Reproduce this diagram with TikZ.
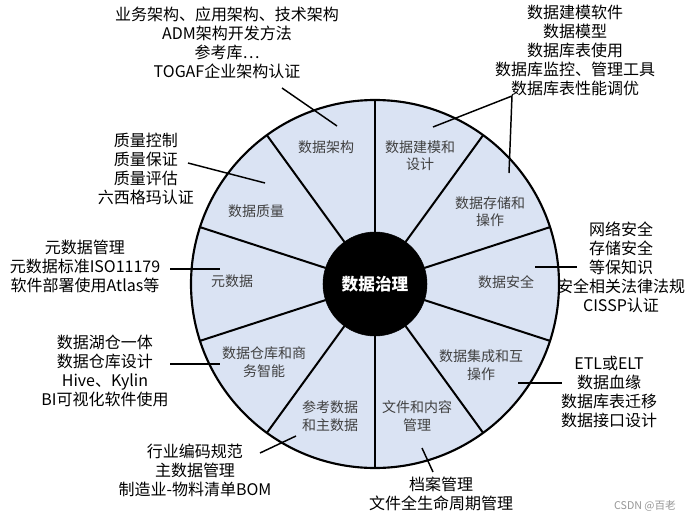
\documentclass[tikz,border=0pt]{standalone}
\usepackage{fontspec}
\setmainfont{Noto Sans CJK SC}
\definecolor{segfill}{RGB}{218,227,243}
\definecolor{labgray}{RGB}{64,64,64}
\definecolor{wmgray}{RGB}{150,150,150}
\tikzset{
  seglabel/.style={font=\fontsize{10.5}{13}\selectfont, text=labgray, align=center, inner sep=0pt},
  outtext/.style={font=\fontsize{12}{14.25}\selectfont, text=black, align=center, inner sep=0pt},
  divider/.style={line width=1.5pt, black},
  leader/.style={line width=1.1pt, black},
}
\begin{document}
\begin{tikzpicture}[x=0.75pt,y=-0.75pt]
\useasboundingbox (0,0) rectangle (694,521);
\coordinate (C) at (375,284);
% wheel
\fill[segfill] (C) circle [radius=184];
\foreach \a in {90,54,18,-18,-54,-90,-126,-162,162,126}{
  \draw[divider] ([shift={(C)}]\a:52) -- ([shift={(C)}]\a:184);
}
\draw[line width=1.6pt, black] (C) circle [radius=184];
\node[circle, fill=black, draw=black, minimum size=78pt, inner sep=0pt,
      font=\fontsize{12.5}{14}\selectfont\bfseries, text=white] (hub) at (C) {数据治理};
% segment labels
\node[seglabel] (arch) at (326,147) {数据架构};
\node[seglabel] (model) at (420,155.5) {数据建模和\\设计};
\node[seglabel] (store) at (490,212) {数据存储和\\操作};
\node[seglabel] (sec) at (506,282) {数据安全};
\node[seglabel] (integ) at (481,365) {数据集成和互\\操作};
\node[seglabel] (doc) at (417,416) {文件和内容\\管理};
\node[seglabel] (ref) at (330,416) {参考数据\\和主数据};
\node[seglabel] (dw) at (264,362) {数据仓库和商\\务智能};
\node[seglabel] (meta) at (232,281) {元数据};
\node[seglabel] (qual) at (256,211) {数据质量};
% outer texts
\node[outtext] (tA) at (227,43) {业务架构、应用架构、技术架构\\ADM架构开发方法\\参考库…\\TOGAF企业架构认证};
\node[outtext] (tB) at (575,50) {数据建模软件\\数据模型\\数据库表使用\\数据库监控、管理工具\\数据库表性能调优};
\node[outtext] (tC) at (146,168.5) {质量控制\\质量保证\\质量评估\\六西格玛认证};
\node[outtext] (tD) at (85,266) {元数据管理\\元数据标准ISO11179\\软件部署使用Atlas等};
\node[outtext] (tE) at (621,267.5) {网络安全\\存储安全\\等保知识\\安全相关法律法规\\CISSP认证};
\node[outtext] (tF) at (105,371) {数据湖仓一体\\数据仓库设计\\Hive、Kylin\\BI可视化软件使用};
\node[outtext] (tG) at (609,391.5) {ETL或ELT\\数据血缘\\数据库表迁移\\数据接口设计};
\node[outtext] (tH) at (195,470) {行业编码规范\\主数据管理\\制造业-物料清单BOM};
\node[outtext] (tI) at (441,494) {档案管理\\文件全生命周期管理};
\node[font=\fontsize{8}{9}\selectfont, text=wmgray, inner sep=0pt] (wm) at (645,506) {CSDN @百老};
% leader coordinates
\coordinate (a1) at (282,88);  \coordinate (a2) at (337,126);
\coordinate (b1) at (433,127); \coordinate (b2) at (512,96); \coordinate (b3) at (509,173);
\coordinate (c1) at (188,163); \coordinate (c2) at (265,183);
\coordinate (d1) at (170,269); \coordinate (d2) at (220,269);
\coordinate (e1) at (535,267); \coordinate (e2) at (577,267);
\coordinate (f1) at (170,364); \coordinate (f2) at (220,364);
\coordinate (g1) at (518,383); \coordinate (g2) at (562,383);
\coordinate (h1) at (260,453); \coordinate (h2) at (296,436);
\coordinate (i1) at (422,448); \coordinate (i2) at (433,472);
% leaders
\draw[leader] (a1) -- (a2);
\draw[leader] (b1) -- (b2) -- (b3);
\draw[leader] (c1) -- (c2);
\draw[leader] (d1) -- (d2);
\draw[leader] (e1) -- (e2);
\draw[leader] (f1) -- (f2);
\draw[leader] (g1) -- (g2);
\draw[leader] (h1) -- (h2);
\draw[leader] (i1) -- (i2);
\end{tikzpicture}
\end{document}
